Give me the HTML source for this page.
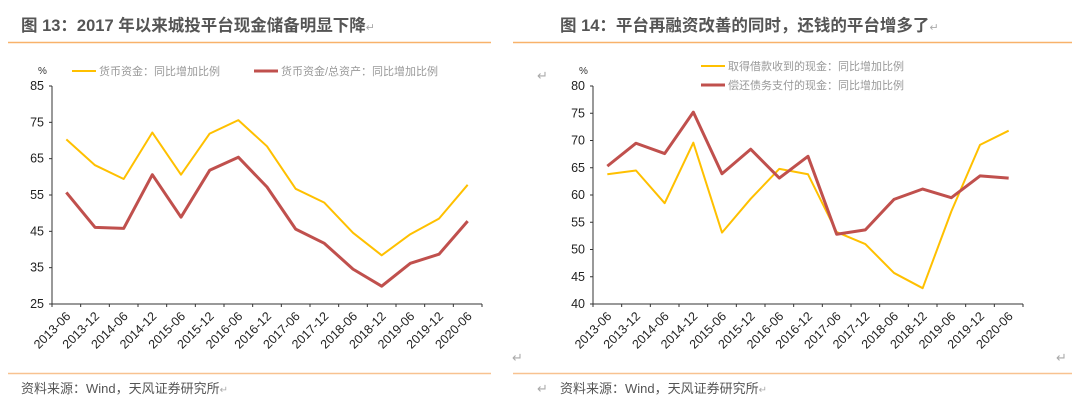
<!DOCTYPE html>
<html><head><meta charset="utf-8"><style>
body{margin:0;background:#fff;width:1080px;height:408px;overflow:hidden;font-family:"Liberation Sans","Noto Sans CJK SC",sans-serif;}
svg{position:absolute;left:0;top:0}
</style></head><body>
<svg width="1080" height="408">
<g>
<text x="21" y="31" font-size="16.5" font-weight="bold" fill="#555">图 13：2017 年以来城投平台现金储备明显下降<tspan font-size="11" font-weight="normal" fill="#aaa">↵</tspan></text>
<line x1="8" y1="42.5" x2="491" y2="42.5" stroke="#f8b26a" stroke-width="1.5"/>
<line x1="8" y1="373.5" x2="491" y2="373.5" stroke="#f8c290" stroke-width="1.5"/>
<text x="21" y="393" font-size="13" fill="#555">资料来源：Wind，天风证券研究所<tspan font-size="10" fill="#aaa">↵</tspan></text>
<text x="512" y="362" font-size="13" fill="#aaa">↵</text>
<text x="537" y="80" font-size="13" fill="#aaa">↵</text>
<text x="537" y="393" font-size="13" fill="#aaa">↵</text>
</g>
<g>
<text x="560" y="31" font-size="16.5" font-weight="bold" fill="#555">图 14：平台再融资改善的同时，还钱的平台增多了<tspan font-size="11" font-weight="normal" fill="#aaa">↵</tspan></text>
<line x1="513" y1="42.5" x2="1072" y2="42.5" stroke="#f8b26a" stroke-width="1.5"/>
<line x1="513" y1="373.5" x2="1072" y2="373.5" stroke="#f8c290" stroke-width="1.5"/>
<text x="560" y="393" font-size="13" fill="#555">资料来源：Wind，天风证券研究所<tspan font-size="10" fill="#aaa">↵</tspan></text>
<text x="1056" y="362" font-size="13" fill="#aaa">↵</text>
</g>
<g id="c1"></g>
<g id="c2"></g>
</svg>
<script>
const categories=["2013-06","2013-12","2014-06","2014-12","2015-06","2015-12","2016-06","2016-12","2017-06","2017-12","2018-06","2018-12","2019-06","2019-12","2020-06"];
const leftCash=[70.3,63.2,59.4,72.2,60.6,71.9,75.6,68.4,56.7,52.9,44.6,38.4,44.2,48.5,57.8];
const leftRatio=[55.7,46.1,45.8,60.6,48.9,61.8,65.4,57.2,45.6,41.7,34.6,29.9,36.2,38.7,47.8];
const leftTicks=[25,35,45,55,65,75,85];
const rightBorrow=[63.8,64.5,58.5,69.6,53.1,59.3,64.8,63.8,53.2,51.0,45.7,42.9,57.0,69.2,71.8];
const rightRepay=[65.3,69.5,67.6,75.2,63.9,68.4,63.1,67.1,52.8,53.6,59.2,61.1,59.5,63.5,63.1];
const rightTicks=[40,45,50,55,60,65,70,75,80];
const NS="http://www.w3.org/2000/svg";
function mk(p,t,a){const e=document.createElementNS(NS,t);for(const k in a)e.setAttribute(k,a[k]);p.appendChild(e);return e;}
function chart(g,x0,x1,yTop,yBot,ticks,series,legend){
  const min=ticks[0],max=ticks[ticks.length-1],n=categories.length,step=(x1-x0)/n;
  const y=v=>yBot-(v-min)/(max-min)*(yBot-yTop);
  const x=i=>x0+step*(i+0.5);
  const ax=mk(g,'path',{d:`M${x0},${yTop}V${yBot}H${x1}`,stroke:'#333',fill:'none','stroke-width':1});
  
  
  ticks.forEach(t=>{
    const l=mk(g,'line',{x1:x0-3,x2:x0,y1:y(t),y2:y(t),stroke:'#333'});
    
    
    const tx=mk(g,'text',{x:x0-8,y:y(t)+4,'font-size':12.5,'text-anchor':'end',fill:'#222'});
    tx.textContent=t;
    
    
  });
  for(let i=0;i<=n;i++){
    const l=mk(g,'line',{x1:x0+step*i,x2:x0+step*i,y1:yBot,y2:yBot+3,stroke:'#333'});
    
    
  }
  categories.forEach((c,i)=>{
    const tx=mk(g,'text',{x:x(i)+5,y:yBot+13,'font-size':12.5,'text-anchor':'end',fill:'#222',transform:`rotate(-45 ${x(i)+5} ${yBot+13})`});
    tx.textContent=c;
    
    
  });
  const pct=mk(g,'text',{x:x0-14,y:yTop-12,'font-size':10,fill:'#333'});
  pct.textContent='%';
  
  
  series.forEach(s=>{
    const p=mk(g,'polyline',{points:s.v.map((v,i)=>x(i)+','+y(v)).join(' '),fill:'none',stroke:s.c,'stroke-width':s.w,'stroke-linejoin':'round'});
    
    
  });
  legend.forEach(L=>{
    const l=mk(g,'line',{x1:L.x,x2:L.x+24,y1:L.y,y2:L.y,stroke:L.c,'stroke-width':L.w});
    
    
    const t=mk(g,'text',{x:L.x+27,y:L.y+4,'font-size':11,fill:'#999'});
    t.textContent=L.t;
    
    
  });
}
chart(document.getElementById('c1'),52,482,86,304,leftTicks,
 [{v:leftCash,c:'#ffc000',w:2,name:'line-cash'},{v:leftRatio,c:'#c0504d',w:3,name:'line-cash-ratio'}],
 [{x:72,y:71,c:'#ffc000',w:2,t:'货币资金：同比增加比例'},{x:254,y:71,c:'#c0504d',w:3,t:'货币资金/总资产：同比增加比例'}]);
chart(document.getElementById('c2'),593,1023,86,304,rightTicks,
 [{v:rightBorrow,c:'#ffc000',w:2,name:'line-borrow-cash'},{v:rightRepay,c:'#c0504d',w:3,name:'line-repay-cash'}],
 [{x:701,y:66,c:'#ffc000',w:2,t:'取得借款收到的现金：同比增加比例'},{x:701,y:85,c:'#c0504d',w:3,t:'偿还债务支付的现金：同比增加比例'}]);
</script>
</body></html>
